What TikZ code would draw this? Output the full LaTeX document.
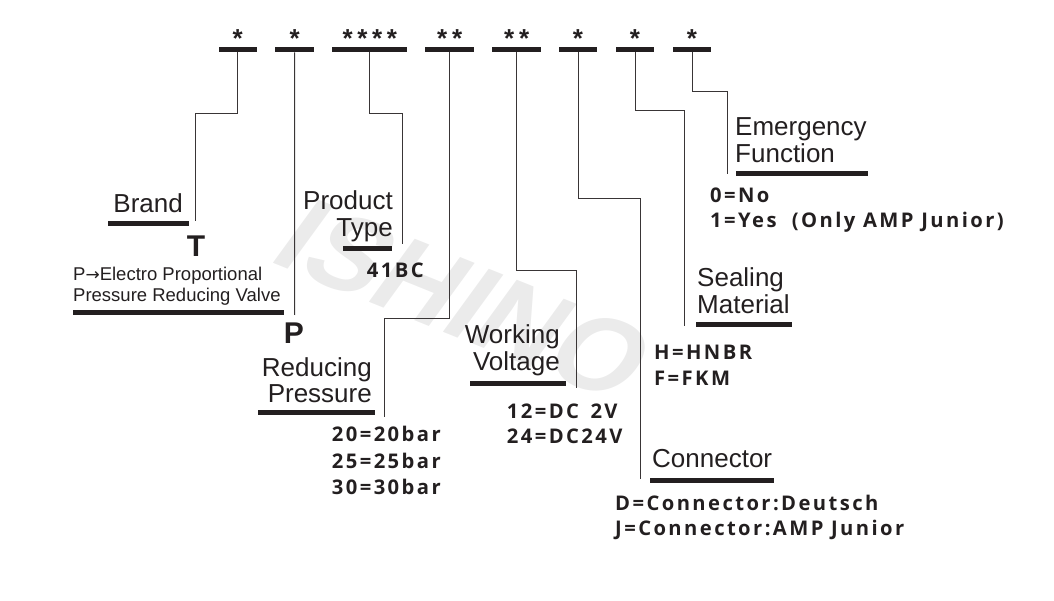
\documentclass[tikz,border=0pt]{standalone}
\usepackage{fontspec}
\setmainfont{Liberation Sans}
\newfontfamily\valfam[LetterSpace=12]{Open Sans}
\newfontfamily\starfam[LetterSpace=18]{Liberation Sans}
\newfontfamily\arrfam{DejaVu Sans}
\definecolor{ink}{HTML}{231F20}
\definecolor{wmgray}{HTML}{EBEBEB}
\tikzset{
  lead/.style={draw=ink!90, line width=1pt},
  bar/.style={fill=ink, inner sep=0pt, minimum height=5pt},
  stars/.style={font=\starfam\bfseries\fontsize{26}{26}\selectfont, text=ink, inner sep=0pt, anchor=base},
  lbl/.style={font=\fontsize{26}{26.7}\selectfont, text=ink, inner sep=0pt},
  val/.style={font=\valfam\bfseries\fontsize{20.2}{25.5}\selectfont, text=ink, inner sep=0pt, anchor=base west, align=left},
  code/.style={font=\bfseries\fontsize{30}{30}\selectfont, text=ink, inner sep=0pt, anchor=base},
}
\begin{document}
\begin{tikzpicture}[x=1pt,y=-1pt]
\useasboundingbox (0,0) rectangle (1054,601);
% watermark
\node[font=\bfseries\fontsize{110}{110}\selectfont, text=wmgray, rotate=-22, xslant=0.25] (wmark) at (465,300) {ISHINO};
% code fields on top
\foreach \n/\x/\w/\st in {s1/237.7/38/*, s2/294.7/38.7/*, s3/369.8/75/****, s4/449.7/48.7/**, s5/516.7/48.7/**, s6/578/38/*, s7/635/38/*, s8/692/38/*}{
  \node[bar, minimum width=\w pt] (\n) at (\x,49.8) {};
  \node[stars] (a\n) at (\x,47.5) {\st};
}
% brand
\node[lbl, anchor=base east] (brand) at (183,213) {Brand};
\node[bar, minimum width=81pt] (ubrand) at (148.5,223.5) {};
\node[code] (T) at (196,256.7) {T};
\node[font=\fontsize{18.5}{20.7}\selectfont, text=ink, inner sep=0pt, anchor=base west, align=left] (pdesc) at (73,301.7) {P{\arrfam\fontsize{17}{17}\selectfont→}Electro Proportional\\Pressure Reducing Valve};
\node[bar, minimum width=211pt] (updesc) at (178.5,312.5) {};
\node[code] (P) at (294,343) {P};
% product type
\node[lbl, anchor=base east, align=right] (ptype) at (393,236.7) {Product\\Type};
\node[bar, minimum width=49pt] (uptype) at (367.5,249) {};
\node[val] (v41) at (366.7,277.3) {41BC};
% reducing pressure
\node[lbl, anchor=base east, align=right] (redp) at (372,402.7) {Reducing\\Pressure};
\node[bar, minimum width=117pt] (uredp) at (316.5,412.5) {};
\node[val, font=\valfam\bfseries\fontsize{20.2}{26.3}\selectfont] (vbar) at (331.7,494.3) {20=20bar\\25=25bar\\30=30bar};
% working voltage
\node[lbl, anchor=base east, align=right] (wvolt) at (560,370) {Working\\Voltage};
\node[bar, minimum width=96pt] (uwvolt) at (518,383.5) {};
\node[val, font=\valfam\bfseries\fontsize{20.2}{25}\selectfont] (vvolt) at (506.7,443.3) {12=DC\phantom{1}2V\\24=DC24V};
% emergency function
\node[lbl, anchor=base west, align=left] (emerg) at (735,162.7) {Emergency\\Function};
\node[bar, minimum width=132pt] (uemerg) at (802,174) {};
\node[val] (vemerg) at (710,227.7) {0=No\\1=Yes\ \ (Only AMP Junior)};
% sealing material
\node[lbl, anchor=base west, align=left] (seal) at (697,313.3) {Sealing\\Material};
\node[bar, minimum width=96pt] (useal) at (744,325) {};
\node[val, font=\valfam\bfseries\fontsize{20.2}{26}\selectfont] (vseal) at (654,385) {H=HNBR\\F=FKM};
% connector
\node[lbl, anchor=base west] (conn) at (652,467.7) {Connector};
\node[bar, minimum width=124pt] (uconn) at (712,480) {};
\node[val, font=\valfam\bfseries\fontsize{20.2}{25}\selectfont] (vconn) at (615,535) {D=Connector:Deutsch\\J=Connector:AMP Junior};
% leader ends
\coordinate (eBrand) at (195,221);
\coordinate (eP) at (294.5,315);
\coordinate (eType) at (402,244);
\coordinate (eRedp) at (384,417);
\coordinate (eVolt) at (576,388);
\coordinate (eConn) at (640,479);
\coordinate (eSeal) at (684,326);
\coordinate (eEmerg) at (727,174);
% leaders
\draw[lead] (s1.south) -- ++(0,60.7) -| (eBrand);
\draw[lead] (s2.south) -- (eP);
\draw[lead] (s3.south) -- ++(0,60.7) -| (eType);
\draw[lead] (s4.south) -- ++(0,265.7) -| (eRedp);
\draw[lead] (s5.south) -- ++(0,217.7) -| (eVolt);
\draw[lead] (s6.south) -- ++(0,145.7) -| (eConn);
\draw[lead] (s7.south) -- ++(0,58.2) -| (eSeal);
\draw[lead] (s8.south) -- ++(0,38.7) -| (eEmerg);
\end{tikzpicture}
\end{document}
